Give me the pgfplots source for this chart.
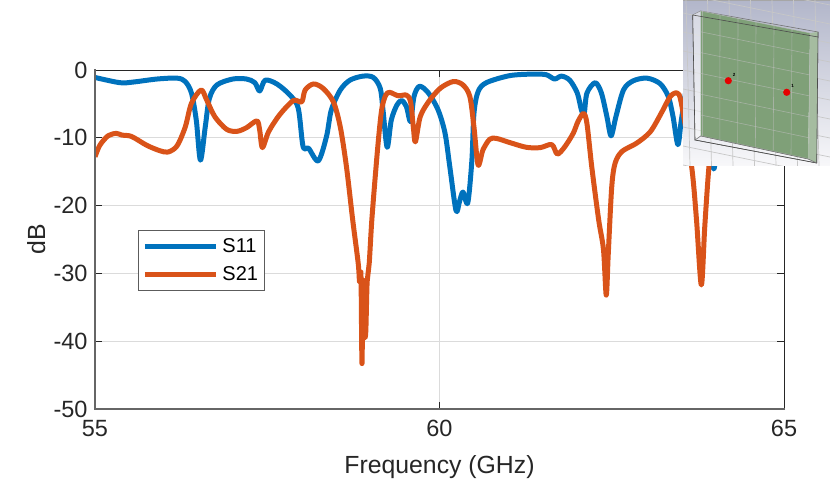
\documentclass[border=0pt]{standalone}
\usepackage{pgfplots}
\pgfplotsset{compat=1.18}
\usepackage{fontspec}
\setmainfont{Liberation Sans}
\definecolor{s11}{HTML}{0072BD}
\definecolor{s21}{HTML}{D95319}
\definecolor{frame}{HTML}{262626}
\definecolor{plate}{HTML}{7FA078}
\definecolor{meshtop}{HTML}{B2B6CA}
\definecolor{meshbot}{HTML}{F8F8FA}

\begin{document}
\begin{tikzpicture}[x=1pt,y=1pt]
\useasboundingbox (0,0) rectangle (830,499);
\begin{axis}[
    at={(95pt,90pt)}, anchor=south west,
    scale only axis,
    width=689pt, height=339pt,
    xmin=55, xmax=65,
    ymin=-50, ymax=0,
    xtick={55,60,65},
    ytick={-50,-40,-30,-20,-10,0},
    xmajorgrids=true, ymajorgrids=true,
    grid style={black!14, line width=1pt},
    axis line style={frame, line width=1pt},
    tick style={frame, line width=0.8pt},
    major tick length=7pt,
    tick align=inside,
    tick pos=both,
    /pgf/number format/assume math mode=true,
    tick label style={font=\fontsize{23.5}{26}\selectfont, text=frame},
    xticklabel style={yshift=-8pt},
    yticklabel style={xshift=-4pt},
    xlabel={Frequency (GHz)},
    ylabel={dB},
    label style={font=\fontsize{24.8}{27}\selectfont, text=frame},
    xlabel style={at={(axis description cs:0.5,0)}, anchor=north, yshift=-43pt},
    ylabel style={at={(axis description cs:0,0.5)}, anchor=south, yshift=46pt},
    legend style={
        at={(0.0624,0.528)}, anchor=north west,
        draw=frame!75!white, line width=1pt, fill=white,
        inner xsep=4pt, inner ysep=6.5pt, row sep=8pt,
        font=\fontsize{20}{21}\selectfont,
    },
    legend cell align={left},
    legend image code/.code={\draw[#1] (0pt,0pt) -- (71pt,0pt); \path (73pt,0pt);},
    after end axis/.code={
        \draw[black!60, line width=1.5pt, line cap=rect]
            (rel axis cs:0,1) -- (rel axis cs:0,0) -- (rel axis cs:1,0);
    },
]

% S11
\addplot[color=s11, line width=5pt, line join=round, smooth, tension=0.5] coordinates {
    (55,-1.1) (55.36,-1.87) (55.56,-1.77) (55.9,-1.33) (56.19,-1.2) (56.31,-1.7)
    (56.4,-3.4) (56.47,-7.4) (56.53,-13.3) (56.6,-8.4) (56.66,-4.2) (56.77,-2.2)
    (57.0,-1.33) (57.2,-1.33) (57.32,-1.87) (57.39,-3.1) (57.47,-1.5) (57.64,-2.06)
    (57.83,-3.7) (57.95,-5.65) (58.02,-11.3) (58.1,-11.55) (58.24,-13.4) (58.36,-9.8)
    (58.43,-5.9) (58.56,-2.95) (58.7,-1.5) (58.89,-0.9) (59.04,-1.1) (59.14,-2.7)
    (59.18,-5.9) (59.24,-11.4) (59.3,-7.4) (59.38,-5.2) (59.45,-4.5) (59.52,-5.4)
    (59.58,-7.6) (59.63,-3.9) (59.71,-2.4) (59.84,-3.4) (59.98,-5.9) (60.08,-9.3)
    (60.15,-14.3) (60.24,-20.75) (60.29,-19.4) (60.34,-18.0) (60.41,-19.6) (60.47,-13.3)
    (60.5,-6.4) (60.56,-3.2) (60.68,-1.87) (61.02,-0.83) (61.36,-0.6) (61.55,-0.7)
    (61.67,-1.33) (61.77,-0.9) (61.89,-1.5) (62.0,-3.4) (62.06,-5.9) (62.1,-6.4)
    (62.14,-3.4) (62.26,-1.87) (62.35,-3.4) (62.43,-6.9) (62.49,-9.7) (62.56,-6.9)
    (62.67,-2.95) (62.81,-1.6) (63.01,-1.2) (63.2,-2.0) (63.32,-3.9) (63.39,-6.9)
    (63.46,-11) (63.51,-7.4) (63.6,-2) (63.7,-1.3) (63.8,-3) (63.9,-8)
    (63.98,-14.6) (64.05,-9) (64.15,-3) (64.4,-1.5) (65,-1.5)
};

% S21
\addplot[color=s21, line width=5pt, line join=round, smooth, tension=0.5] coordinates {
    (55,-12.8) (55.07,-11.1) (55.19,-9.7) (55.31,-9.35) (55.39,-9.6) (55.53,-9.8)
    (55.75,-11.1) (55.94,-11.9) (56.06,-12.1) (56.19,-11.2) (56.31,-8.4) (56.4,-4.9)
    (56.54,-2.95) (56.62,-4.4) (56.74,-6.9) (56.91,-8.75) (57.06,-9.05) (57.2,-8.5)
    (57.35,-7.5) (57.39,-8.85) (57.43,-11.45) (57.52,-9.1) (57.68,-6.6) (57.88,-4.5)
    (58.0,-4.7) (58.05,-2.95) (58.17,-2.06) (58.31,-2.7) (58.46,-4.7) (58.56,-8.4)
    (58.65,-14.3) (58.74,-22.1) (58.82,-28.5) (58.84,-31.3) (58.86,-30.2) (58.875,-43.3)
    (58.89,-31) (58.91,-38.8) (58.93,-38.6) (58.95,-31.2) (58.98,-28.5) (59.02,-21.8)
    (59.1,-11.8) (59.16,-5.9) (59.22,-3.7) (59.28,-3.3) (59.4,-3.8) (59.52,-3.7)
    (59.58,-4.7) (59.62,-8.4) (59.65,-10.6) (59.72,-6.9) (59.84,-4.7) (60.01,-2.7)
    (60.2,-1.7) (60.34,-2.2) (60.44,-3.9) (60.5,-8.4) (60.56,-14.0) (60.63,-11.8)
    (60.73,-10.2) (60.83,-10.1) (61.02,-10.7) (61.26,-11.4) (61.46,-11.45) (61.63,-11.0)
    (61.71,-12.4) (61.82,-11.3) (61.94,-9.35) (62.01,-7.6) (62.09,-6.4) (62.14,-7.9)
    (62.21,-14.3) (62.31,-22.1) (62.38,-26.5) (62.42,-33.2) (62.45,-27) (62.5,-17.2)
    (62.55,-13.7) (62.65,-12.0) (62.86,-10.8) (63.06,-9.1) (63.23,-6.15) (63.35,-3.9)
    (63.45,-3.4) (63.51,-4.9) (63.66,-14.3) (63.73,-22.1) (63.8,-31.7) (63.85,-23.1)
    (63.91,-14.3) (64.0,-5) (64.2,-3) (65,-3)
};

\legend{S11\hspace{4pt}, S21\hspace{4pt}}
\end{axis}

% inset render of the structure, in image pixels from the top left
\begin{scope}[shift={(0,499)}, y=-1pt]
    \shade[top color=meshtop, bottom color=meshbot] (683,0) rectangle (830,166);
    \begin{scope}
        \clip (683,0) rectangle (830,166);
        \draw[black!35, line width=0.5pt] (683,0) -- (830,0);
        % background mesh
        \foreach \k in {-2,...,10} {
            \draw[black!22, line width=0.7pt] (683,{-6+19*\k}) -- (830,{24+19*\k});
        }
        \foreach \k in {0,...,7} {
            \draw[black!22, line width=0.7pt] ({686+21.5*\k},0) -- ({690+21.5*\k},166);
        }
        % rear box edges
        \draw[black!55, line width=0.6pt] (692.7,15) -- (700.7,11) -- (818,32) -- (816.7,163) -- (695,140) -- cycle;
        % plate
        \fill[plate] (700.7,11) -- (810,33) -- (808,159) -- (700.7,136) -- cycle;
        \fill[white, opacity=0.45] (692.7,15) -- (700.7,11) -- (700.7,136) -- (695,140) -- cycle;
        \fill[plate!70!white] (810,33) -- (818,32) -- (816.7,163) -- (808,159) -- cycle;
        % plate mesh
        \foreach \k in {0,...,6} {
            \draw[black!25, opacity=0.6, line width=0.6pt] ({702+18*\k},{11+3.6*\k}) -- ({702+17.8*\k},{136+3.6*\k});
        }
        \foreach \k in {0,...,6} {
            \draw[black!25, opacity=0.6, line width=0.6pt] (700.7,{11+20.8*\k}) -- (810,{33+21*\k});
        }
        \draw[black!70, line width=0.6pt] (692.7,15) -- (818,37) (692.7,15) -- (695,140) -- (816.7,163) (818,32) -- (816.7,163);
        \draw[black!55, line width=0.6pt] (695,140) -- (700.7,136) -- (808,159) -- (816.7,163);
        % ports
        \fill[red!90!black] (728.3,80.7) circle (3.6);
        \fill[red!90!black] (786.7,92.3) circle (3.6);
        \node[font=\fontsize{4.5}{5}\selectfont\bfseries, inner sep=0pt] at (734,75) {2};
        \node[font=\fontsize{4.5}{5}\selectfont\bfseries, inner sep=0pt] at (792.7,86) {1};
    \end{scope}
\end{scope}
\end{tikzpicture}
\end{document}
